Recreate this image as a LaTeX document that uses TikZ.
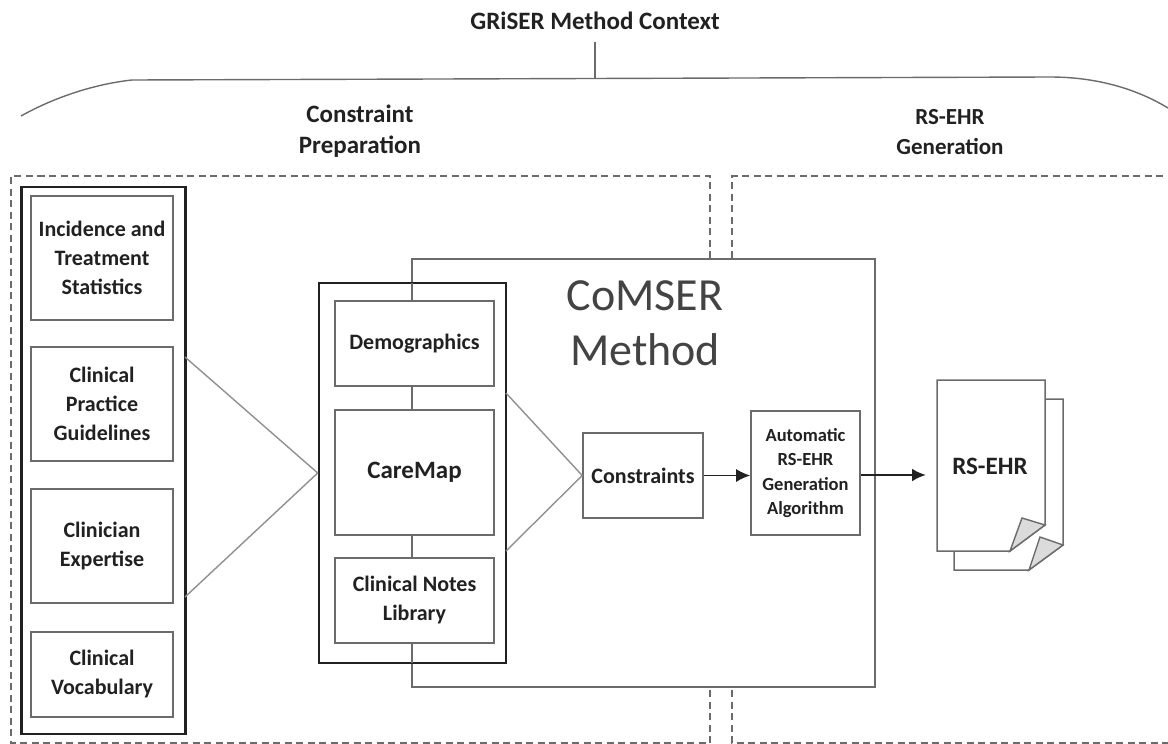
\documentclass[tikz,border=0pt]{standalone}
\usepackage{fontspec}
\setmainfont{Carlito}
\usetikzlibrary{arrows.meta}
\definecolor{linegray}{gray}{0.42}
\definecolor{inkgray}{gray}{0.13}
\tikzset{
  px/.style={x=1pt,y=-1pt},
  boxnode/.style={draw=linegray,line width=1.6pt,fill=white,align=center,font=\bfseries\fontsize{22}{29}\selectfont,text=inkgray,inner sep=0pt},
  groupbox/.style={draw=inkgray,line width=2.6pt},
  dashline/.style={draw=linegray,line width=1.3pt,dash pattern=on 7pt off 4.5pt},
  thinline/.style={draw=linegray,line width=1.4pt},
  headtext/.style={align=center,font=\bfseries\fontsize{25}{30.5}\selectfont,text=inkgray},
  flow/.style={-{Latex[length=14pt,width=13pt]},draw=inkgray},
  corner/.style={draw=linegray,line width=1.4pt,fill=black!14},
  pagebox/.style={draw=linegray,line width=1.5pt,fill=white}
}
\newcommand{\pxbox}[6][]{\node[boxnode,minimum width=#4 pt-#2 pt,minimum height=#5 pt-#3 pt,#1] (#6) at ({(#2+#4)/2},{(#3+#5)/2})}
\begin{document}
\begin{tikzpicture}[px]
\useasboundingbox (0,0) rectangle (1168,744);
% dashed phase panels
\coordinate (pa) at (710,258); \coordinate (pb) at (710,176); \coordinate (pc) at (11,176); \coordinate (pd) at (11,743);
\coordinate (pe) at (710,743); \coordinate (pf) at (710,690);
\draw[dashline] (pa) -- (pb) -- (pc) -- (pd) -- (pe) -- (pf);
\coordinate (qa) at (732,258); \coordinate (qb) at (732,176); \coordinate (qc) at (1168,176);
\coordinate (qd) at (732,690); \coordinate (qe) at (732,743); \coordinate (qf) at (1168,743);
\draw[dashline] (qa) -- (qb) -- (qc);
\draw[dashline] (qd) -- (qe) -- (qf);
% context bracket
\coordinate (ba) at (21,116); \coordinate (bb) at (132,80); \coordinate (bc) at (1050,77); \coordinate (bd) at (1168,108); \coordinate (be) at (595,78);
\node[headtext] (ctx) at (595,21) {GRiSER Method Context};
\coordinate (ctxfoot) at (595,42);
\draw[thinline] (ba) .. controls (55,97) and (95,84) .. (bb) -- (bc) .. controls (1095,77) and (1135,88) .. (bd);
\draw[thinline] (ctxfoot) -- (be);
\node[headtext] (prep) at (360,131) {Constraint\\Preparation};
\node[headtext,font=\bfseries\fontsize{23}{30.5}\selectfont] (gen) at (950,132) {RS-EHR\\Generation};
% CoMSER frame
\node[draw=linegray,line width=1.5pt,minimum width=463pt,minimum height=428pt,inner sep=0pt] (comser) at (643.5,473) {};
\node[align=center,font=\fontsize{46}{55}\selectfont,text=inkgray!85] (comsertxt) at (645,323) {CoMSER\\Method};
% left group
\node[groupbox,minimum width=164pt,minimum height=547pt,inner sep=0pt] (leftgroup) at (103.5,460.5) {};
\pxbox{31}{196}{173}{320}{incidence} {Incidence and\\Treatment\\Statistics};
\pxbox{31}{347}{173}{461}{practice} {Clinical\\Practice\\Guidelines};
\pxbox{31}{489}{173}{603}{expertise} {Clinician\\Expertise};
\pxbox{31}{632}{173}{717}{vocab} {Clinical\\Vocabulary};
% middle group
\node[groupbox,fill=white,minimum width=187pt,minimum height=380pt,inner sep=0pt] (midgroup) at (412.5,473) {};
\draw[thinline] (412,386) -- (412,410);
\draw[thinline] (412,535) -- (412,558);
\draw[thinline] (412,283) -- (412,301);
\draw[thinline] (412,643) -- (412,663);
\pxbox{335}{301}{494}{386}{demo} {Demographics};
\pxbox{335}{410}{494}{535}{caremap} {\fontsize{25}{30}\selectfont CareMap};
\pxbox{335}{558}{494}{643}{notes} {Clinical Notes\\Library};
% constraints, algorithm
\pxbox{583}{433}{703}{518}{constraints} {Constraints};
\pxbox[font=\bfseries\fontsize{18.5}{24.5}\selectfont]{751}{411}{860}{535}{algo} {Automatic\\RS-EHR\\Generation\\Algorithm};
% chevrons
\coordinate (lu) at (185,357); \coordinate (ll) at (185,597);
\coordinate (mu) at (506,393); \coordinate (ml) at (506,551);
\draw[thinline,draw=linegray!75] (lu) -- (midgroup.west) -- (ll);
\draw[thinline,draw=linegray!75] (mu) -- (constraints.west) -- (ml);
% documents
\coordinate (d2a) at (954,399); \coordinate (d2b) at (1063,399); \coordinate (d2c) at (1063,545); \coordinate (d2d) at (1029,570); \coordinate (d2e) at (954,570); \coordinate (d2t) at (1040,537);
\draw[pagebox] (d2a) -- (d2b) -- (d2c) -- (d2d) -- (d2e) -- cycle;
\draw[corner] (d2d) -- (d2t) -- (d2c) -- cycle;
\coordinate (d1a) at (937,380); \coordinate (d1b) at (1045,380); \coordinate (d1c) at (1045,525); \coordinate (d1d) at (1010,551); \coordinate (d1e) at (937,551); \coordinate (d1t) at (1022,518);
\draw[pagebox] (d1a) -- (d1b) -- (d1c) -- (d1d) -- (d1e) -- cycle;
\draw[corner] (d1d) -- (d1t) -- (d1c) -- cycle;
\node[font=\bfseries\fontsize{25}{30}\selectfont,text=inkgray] (ehr) at (990,466) {RS-EHR};
\coordinate (dochit) at (926,475);
% arrows
\draw[flow,line width=1.5pt] (constraints.east) -- (algo.west |- constraints.east);
\draw[flow,line width=2.6pt] (algo.east |- dochit) -- (dochit);
\end{tikzpicture}
\end{document}
